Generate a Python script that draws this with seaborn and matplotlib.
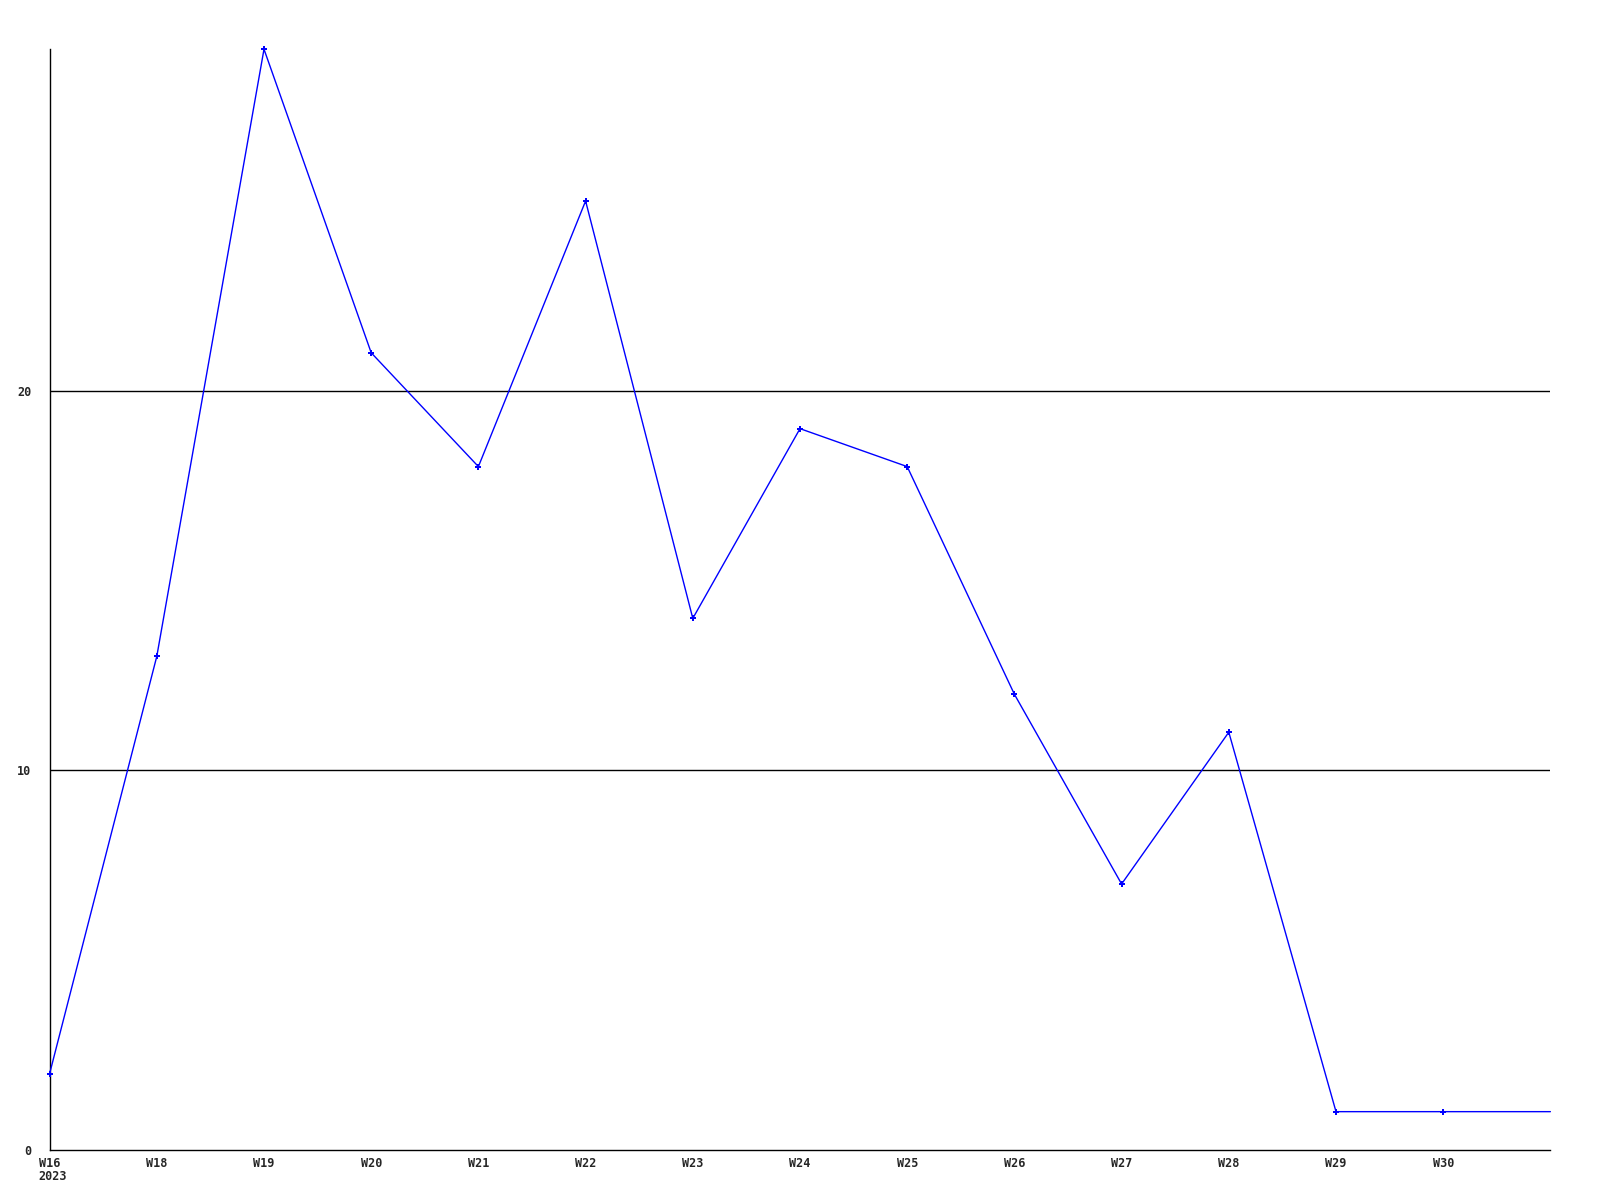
import pandas as pd
import seaborn as sns
import matplotlib.pyplot as plt

# weekly counts, last point has no label
weeks = ["W16", "W18", "W19", "W20", "W21", "W22", "W23", "W24",
         "W25", "W26", "W27", "W28", "W29", "W30", ""]
counts = [2, 13, 29, 21, 18, 25, 14, 19, 18, 12, 7, 11, 1, 1, 1]
year_label = "2023"
y_ticks = [0, 10, 20]

df = pd.DataFrame({"pos": range(len(weeks)), "week": weeks, "count": counts})

sns.set_style("white")
plt.rcParams['font.family'] = ['DejaVu Sans Mono']

fig = plt.figure(figsize=(16, 12), dpi=100)
ax = fig.add_axes([0.031, 0.042, 0.938, 0.917])

for y in y_ticks[1:]:
    ax.axhline(y, color="black", linewidth=1, zorder=1)

sns.lineplot(data=df, x="pos", y="count", ax=ax, color="#0000ff",
             linewidth=1, marker="P", markersize=4, markeredgewidth=0,
             markevery=list(range(len(weeks) - 1)), zorder=3, clip_on=False)

ax.set_xlim(0, len(weeks) - 1)
ax.set_ylim(0, 29)
ax.set_xticks(df["pos"][:-1])
ax.set_xticklabels(df["week"][:-1], fontsize=8.5, fontweight="bold")
ax.set_yticks(y_ticks)
ax.set_yticklabels([str(v) for v in y_ticks], fontsize=8.5, fontweight="bold")
ax.tick_params(axis="x", length=0, pad=5)
ax.tick_params(axis="y", length=0, pad=13)
ax.set_xlabel("")
ax.set_ylabel("")

# year under the first week label
ax.annotate(year_label, xy=(0, 0), xycoords=("data", "axes fraction"),
            xytext=(-8, -19.5), textcoords="offset points",
            ha="left", va="center", fontsize=8.5, fontweight="bold")

for s in ["top", "right"]:
    ax.spines[s].set_visible(False)
for s in ["left", "bottom"]:
    ax.spines[s].set_color("black")
    ax.spines[s].set_linewidth(1)

fig.savefig("out.png", dpi=100, facecolor="white")
